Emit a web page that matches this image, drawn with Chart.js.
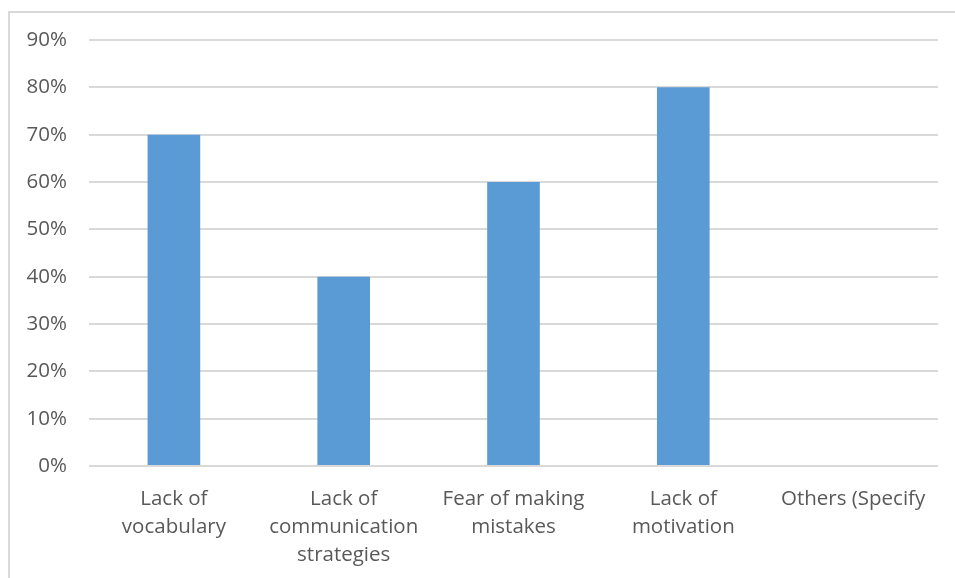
<!DOCTYPE html>
<html>
<head>
<meta charset="utf-8">
<script src="https://cdn.jsdelivr.net/npm/chart.js@4"></script>
<style>
  html, body { margin: 0; padding: 0; background: #fff; overflow: hidden; }
  #frame { position: absolute; left: 8px; top: 11px; width: 980px; height: 600px; border: 2px solid #d9d9d9; box-sizing: border-box; }
  #wrap { position: absolute; left: 0; top: 0; width: 955px; height: 578px; }
</style>
</head>
<body>
<div id="frame"></div>
<div id="wrap"><canvas id="bar-chart"></canvas></div>
<script>
var categories = [
  ["Lack of", "vocabulary"],
  ["Lack of", "communication", "strategies"],
  ["Fear of making", "mistakes"],
  ["Lack of", "motivation"],
  ["Others (Specify"]
];
var percents = [70, 40, 60, 80, 0];
var yMax = 90;
var yStep = 10;

window.onload = function(){
  bar_chart();
}

function bar_chart(){
  new Chart(document.getElementById("bar-chart"), {
    type: 'bar',
    data: {
      labels: categories,
      datasets: [{
        data: percents,
        backgroundColor: "#5b9bd5",
        barPercentage: 0.31,
        categoryPercentage: 1
      }]
    },
    options: {
      responsive: true,
      maintainAspectRatio: false,
      animation: false,
      layout: { padding: { left: 0, right: 17, top: 40, bottom: 0 } },
      plugins: { legend: { display: false }, tooltip: { enabled: false } },
      scales: {
        x: {
          grid: { display: false },
          border: { display: false },
          ticks: {
            color: "#595959",
            font: { family: "'Open Sans'", size: 20.5, lineHeight: 1.37 },
            padding: 11,
            maxRotation: 0,
            autoSkip: false
          },
          afterFit: function(s){ s.height = 112; }
        },
        y: {
          min: 0,
          max: yMax,
          grid: { color: "#d9d9d9", lineWidth: 2, drawTicks: false },
          border: { display: false },
          ticks: {
            stepSize: yStep,
            color: "#595959",
            font: { family: "'Open Sans'", size: 20.5 },
            padding: 22,
            callback: function(v){ return v + "%"; }
          },
          afterFit: function(s){ s.width = 89; }
        }
      }
    }
  });
}
</script>
</body>
</html>
